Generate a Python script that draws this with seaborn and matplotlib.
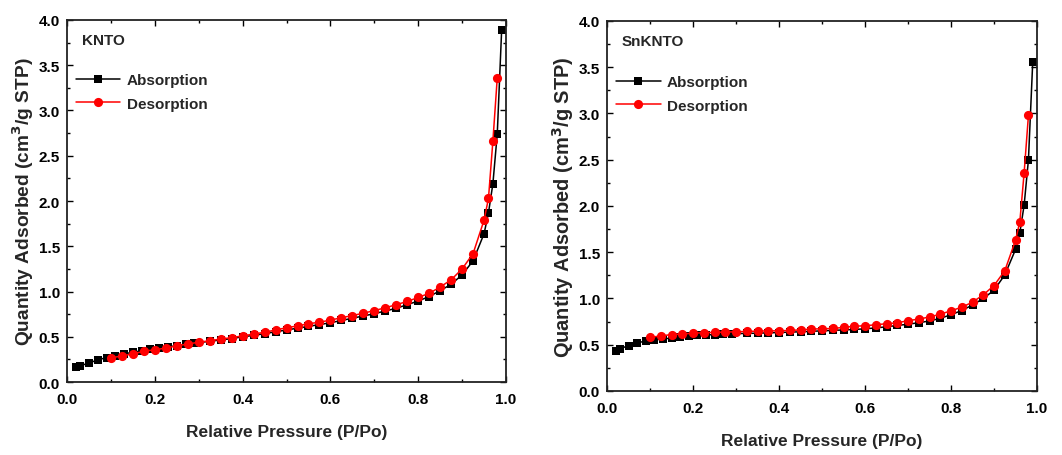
import numpy as np
import pandas as pd
import matplotlib
matplotlib.use("Agg")
import matplotlib.pyplot as plt
import seaborn as sns
from matplotlib.ticker import MultipleLocator, FormatStrFormatter

# Relative pressure grids
ads_p = [0.02, 0.03, 0.05, 0.07, 0.09, 0.11, 0.13, 0.15, 0.17, 0.19, 0.21, 0.23, 0.25, 0.27, 0.29,
         0.325, 0.35, 0.375, 0.40, 0.425, 0.45, 0.475, 0.50, 0.525, 0.55, 0.575, 0.60, 0.625, 0.65,
         0.675, 0.70, 0.725, 0.75, 0.775, 0.80, 0.825, 0.85, 0.875, 0.90, 0.925, 0.95, 0.96, 0.97,
         0.98, 0.99]
des_p = [0.10, 0.125, 0.15, 0.175, 0.20, 0.225, 0.25, 0.275, 0.30, 0.325, 0.35, 0.375, 0.40, 0.425,
         0.45, 0.475, 0.50, 0.525, 0.55, 0.575, 0.60, 0.625, 0.65, 0.675, 0.70, 0.725, 0.75, 0.775,
         0.80, 0.825, 0.85, 0.875, 0.90, 0.925, 0.95, 0.96, 0.97, 0.98]

# KNTO isotherm (cm3/g STP)
knto_ads = [0.17, 0.18, 0.21, 0.245, 0.27, 0.29, 0.31, 0.33, 0.345, 0.36, 0.375, 0.39, 0.40, 0.415, 0.43,
            0.45, 0.465, 0.48, 0.50, 0.515, 0.535, 0.555, 0.575, 0.595, 0.615, 0.635, 0.655, 0.68, 0.705,
            0.73, 0.755, 0.785, 0.815, 0.855, 0.895, 0.945, 1.01, 1.08, 1.185, 1.34, 1.64, 1.87, 2.19,
            2.74, 3.89]
knto_des = [0.265, 0.29, 0.31, 0.34, 0.357, 0.375, 0.40, 0.42, 0.44, 0.456, 0.475, 0.49, 0.51, 0.53,
            0.55, 0.575, 0.60, 0.62, 0.645, 0.66, 0.685, 0.71, 0.735, 0.76, 0.79, 0.82, 0.855, 0.89,
            0.935, 0.98, 1.05, 1.13, 1.25, 1.42, 1.79, 2.03, 2.66, 3.36]

# SnKNTO isotherm (cm3/g STP)
snknto_ads = [0.43, 0.457, 0.49, 0.52, 0.54, 0.55, 0.565, 0.57, 0.58, 0.59, 0.60, 0.605, 0.61, 0.615, 0.62,
              0.622, 0.625, 0.628, 0.632, 0.636, 0.64, 0.645, 0.65, 0.655, 0.66, 0.665, 0.672, 0.682, 0.694,
              0.708, 0.722, 0.738, 0.757, 0.785, 0.825, 0.87, 0.93, 1.00, 1.09, 1.255, 1.53, 1.71, 2.01,
              2.50, 3.56]
snknto_des = [0.58, 0.595, 0.61, 0.615, 0.625, 0.63, 0.633, 0.637, 0.64, 0.644, 0.647, 0.65, 0.65, 0.655,
              0.66, 0.67, 0.672, 0.676, 0.687, 0.70, 0.705, 0.716, 0.727, 0.737, 0.76, 0.777, 0.80, 0.83,
              0.867, 0.906, 0.96, 1.04, 1.14, 1.30, 1.63, 1.83, 2.36, 2.98]

sns.set_theme(style="ticks")
plt.rcParams["font.family"] = ["Liberation Sans", "DejaVu Sans"]
plt.rcParams["font.weight"] = "bold"
plt.rcParams["axes.labelweight"] = "bold"
plt.rcParams["mathtext.default"] = "bf"

fig = plt.figure(figsize=(10.62, 4.56), dpi=100)
ax1 = fig.add_axes([0.0631, 0.160, 0.4134, 0.794])
ax2 = fig.add_axes([0.5716, 0.1404, 0.4049, 0.8114])


def draw(ax, ads, des, name, ylabel_size):
    df_a = pd.DataFrame({"p": ads_p, "q": ads})
    df_d = pd.DataFrame({"p": des_p, "q": des})
    sns.lineplot(data=df_a, x="p", y="q", ax=ax, color="black", marker="s", markersize=5.6,
                 markeredgewidth=0, linewidth=1.1, label="Absorption", estimator=None, sort=False)
    sns.lineplot(data=df_d, x="p", y="q", ax=ax, color="#ff0000", marker="o", markersize=6.6,
                 markeredgewidth=0, linewidth=1.1, label="Desorption", estimator=None, sort=False)
    ax.set_xlim(0, 1.0)
    ax.set_ylim(0, 4.0)
    ax.xaxis.set_major_locator(MultipleLocator(0.2))
    ax.xaxis.set_minor_locator(MultipleLocator(0.1))
    ax.yaxis.set_major_locator(MultipleLocator(0.5))
    ax.yaxis.set_minor_locator(MultipleLocator(0.25))
    ax.xaxis.set_major_formatter(FormatStrFormatter("%.1f"))
    ax.yaxis.set_major_formatter(FormatStrFormatter("%.1f"))
    ax.tick_params(which="both", direction="in", top=True, right=True, width=1.0,
                   labelsize=11, colors="black")
    ax.tick_params(axis="x", which="major", pad=7)
    ax.tick_params(axis="y", which="major", pad=5)
    ax.tick_params(which="major", length=4)
    ax.tick_params(which="minor", length=2.5)
    for lbl in ax.get_xticklabels() + ax.get_yticklabels():
        lbl.set_fontweight("bold")
    for s in ax.spines.values():
        s.set_linewidth(1.3)
        s.set_color("#222222")
    ax.set_xlabel("Relative Pressure (P/Po)", fontsize=12.5, fontweight="bold", labelpad=13)
    ax.set_ylabel("Quantity Adsorbed (cm$^{3}$/g STP)", fontsize=ylabel_size, fontweight="bold",
                  labelpad=2)
    ax.text(0.035, 0.945, name, transform=ax.transAxes, fontsize=11, fontweight="bold", va="center")
    ax.legend(loc="upper left", bbox_to_anchor=(0.0, 0.878), frameon=False,
              prop={"weight": "bold", "size": 11}, handlelength=2.9, handletextpad=0.4,
              labelspacing=0.62, borderaxespad=0.2)
    ax.grid(False)


draw(ax1, knto_ads, knto_des, "KNTO", 13.8)
draw(ax2, snknto_ads, snknto_des, "SnKNTO", 14.4)

fig.savefig("out.png", dpi=100, facecolor="white")
